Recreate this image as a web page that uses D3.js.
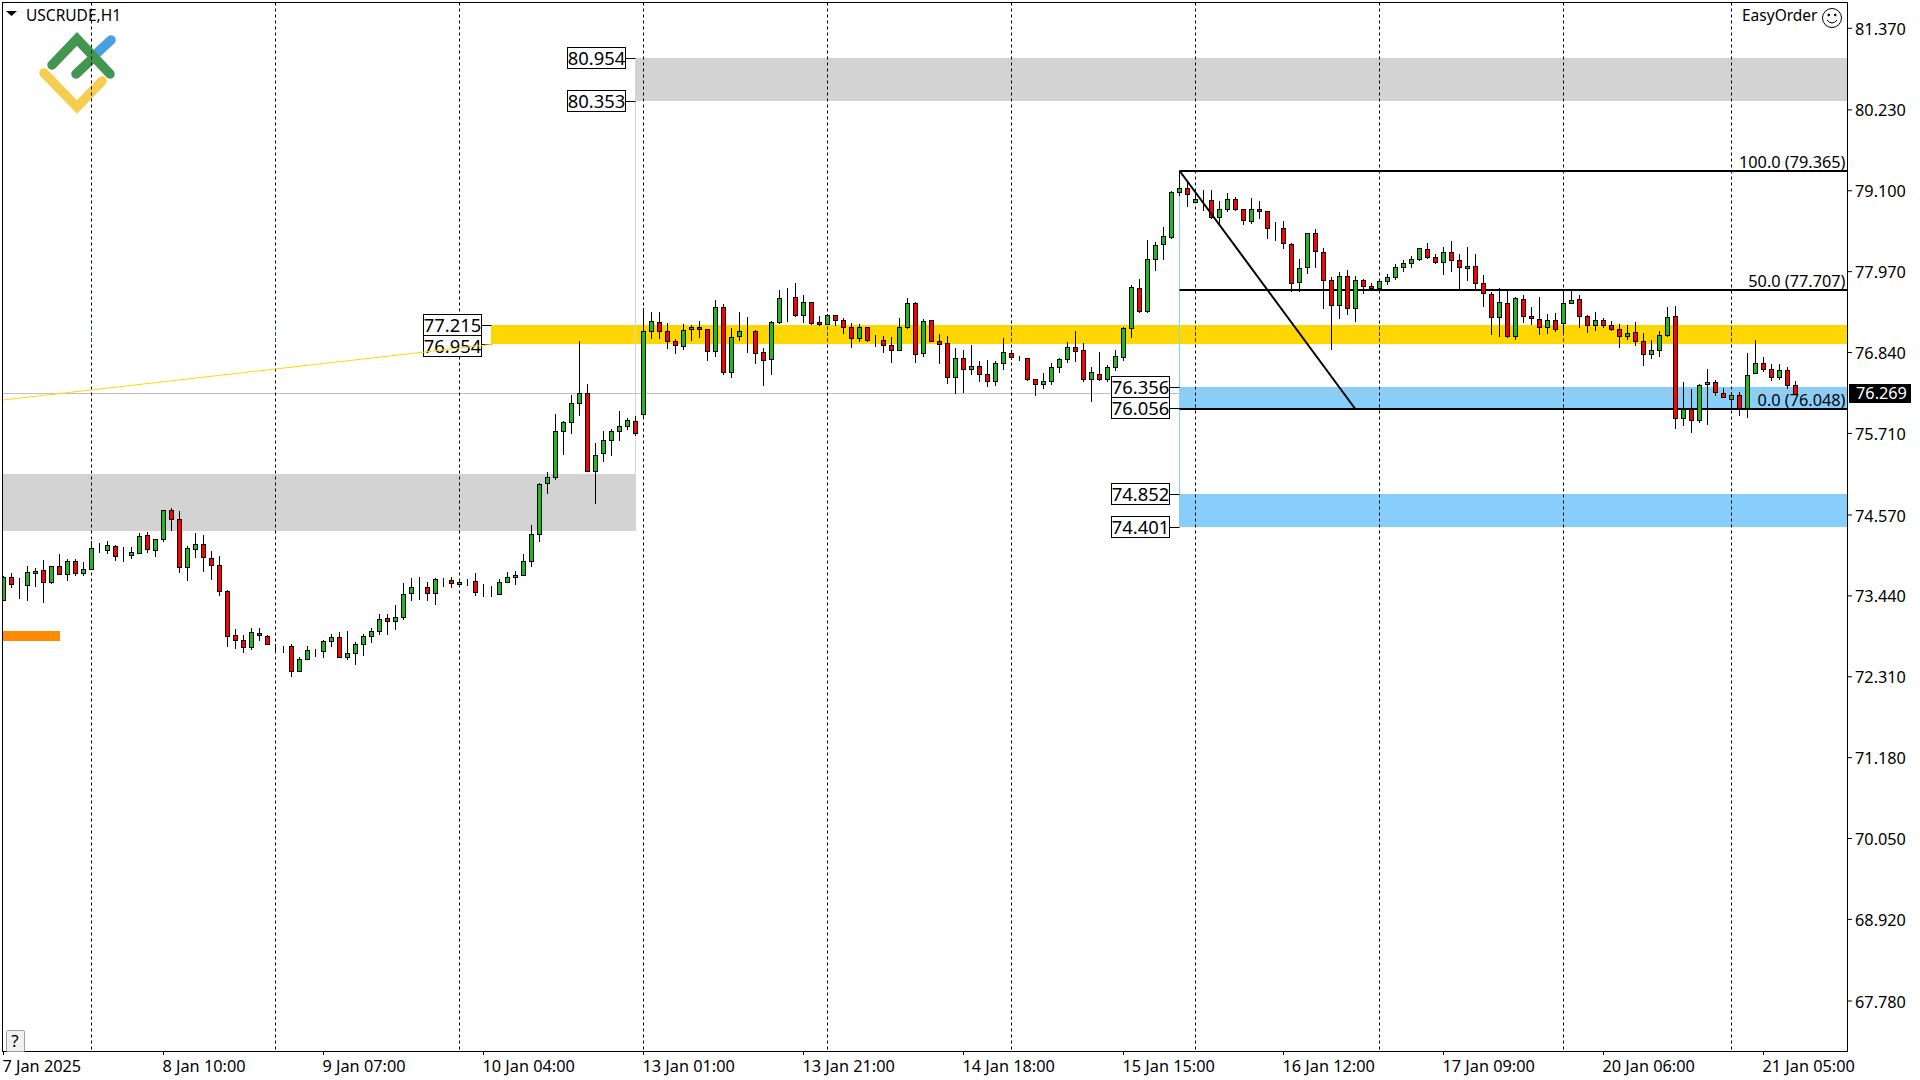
<!DOCTYPE html>
<html>
<head>
<meta charset="utf-8">
<title>USCRUDE,H1</title>
<style>
  html, body { margin: 0; padding: 0; background: #fff; overflow: hidden; }
  svg { display: block; }
  text { font-family: "Noto Sans", sans-serif; fill: #000; }
</style>
</head>
<body>
<div id="chart"></div>
<script src="https://cdn.jsdelivr.net/npm/d3@7"></script>
<script>
// Hourly candles (bar 0 = 7 Jan 2025)
const opens = [
  73.378,73.699,73.606,73.583,73.755,73.797,73.629,73.853,73.736,73.923,
  73.750,73.806,74.100,74.072,74.132,73.993,74.002,74.030,74.286,74.076,
  74.230,74.635,74.509,73.834,74.090,74.160,73.965,73.867,73.504,72.889,
  72.819,72.721,72.917,72.875,72.717,72.730,72.735,72.381,72.549,72.675,
  72.661,72.800,72.860,72.576,72.632,72.758,72.869,72.939,73.126,73.079,
  73.136,73.476,73.560,73.560,73.476,73.667,73.657,73.601,73.643,73.643,
  73.485,73.471,73.457,73.629,73.699,73.727,73.923,74.300,75.012,75.096,
  75.739,75.865,76.130,76.270,75.180,75.432,75.613,75.739,75.809,75.879,
  75.977,77.136,77.262,77.136,76.996,76.927,77.164,77.192,77.164,76.857,
  77.471,76.563,77.066,77.141,77.136,76.843,76.745,77.262,77.606,77.611,
  77.360,77.541,77.262,77.234,77.360,77.290,77.192,77.038,77.192,77.006,
  77.010,76.941,76.871,77.192,77.527,76.829,77.290,76.996,76.968,76.493,
  76.759,76.605,76.647,76.535,76.438,76.689,76.829,76.759,76.759,76.466,
  76.391,76.438,76.633,76.745,76.913,76.871,76.466,76.535,76.466,76.633,
  76.773,77.178,77.737,77.411,78.142,78.352,78.445,79.078,79.134,78.939,
  78.971,78.966,78.729,78.841,78.980,78.841,78.673,78.841,78.813,78.585,
  78.575,78.352,77.821,78.030,78.505,78.240,77.849,77.500,77.905,77.458,
  77.849,77.765,77.737,77.835,77.891,78.030,78.086,78.142,78.282,78.170,
  78.100,78.240,78.128,78.017,78.045,77.807,77.653,77.332,77.527,77.066,
  77.583,77.346,77.304,77.192,77.290,77.248,77.527,77.583,77.346,77.220,
  77.290,77.220,77.164,77.066,77.122,76.996,76.815,76.871,77.080,77.346,
  75.921,76.046,75.893,76.396,76.424,76.270,76.186,76.242,76.060,76.549,
  76.689,76.605,76.493,76.591,76.382
];
const highs = [
  73.713,73.755,73.676,73.857,73.816,73.941,73.853,74.025,73.951,73.951,
  73.913,74.193,74.165,74.193,74.146,74.123,74.123,74.305,74.328,74.230,
  74.635,74.654,74.621,74.132,74.305,74.277,74.067,73.997,73.518,72.977,
  72.880,72.987,72.987,72.889,72.763,72.736,72.763,72.586,72.735,72.693,
  72.819,72.907,72.935,72.949,72.790,72.907,72.991,73.186,73.186,73.299,
  73.620,73.676,73.690,73.629,73.685,73.685,73.699,73.639,73.662,73.755,
  73.606,73.573,73.662,73.769,73.783,74.025,74.426,75.012,75.166,75.977,
  75.879,76.242,76.991,76.400,75.571,75.739,75.767,76.018,75.921,75.949,
  77.462,77.406,77.406,77.248,77.024,77.234,77.211,77.267,77.164,77.569,
  77.513,77.178,77.402,77.336,77.150,76.899,77.276,77.709,77.737,77.807,
  77.639,77.541,77.346,77.374,77.360,77.318,77.248,77.234,77.192,77.080,
  77.066,77.052,77.318,77.588,77.541,77.304,77.290,77.094,77.066,76.899,
  76.875,76.941,76.717,76.731,76.717,77.038,76.875,76.791,76.759,76.466,
  76.549,76.689,76.759,76.982,77.127,76.968,76.633,76.843,76.661,76.871,
  77.192,77.779,77.863,78.412,78.380,78.589,79.092,79.365,79.204,79.064,
  79.106,79.106,78.953,79.064,79.008,78.841,78.994,78.953,78.813,78.659,
  78.673,78.366,78.142,78.505,78.561,78.296,77.891,77.961,77.988,77.905,
  77.863,77.807,77.863,77.933,78.072,78.128,78.184,78.296,78.366,78.212,
  78.310,78.398,78.212,78.310,78.212,77.918,77.681,77.737,77.704,77.611,
  77.639,77.471,77.611,77.374,77.388,77.704,77.704,77.639,77.360,77.402,
  77.318,77.276,77.234,77.220,77.262,77.108,77.010,77.136,77.471,77.490,
  76.424,76.326,76.396,76.596,76.452,76.340,76.284,76.284,76.829,77.010,
  76.773,76.675,76.675,76.633,76.438
];
const lows = [
  73.378,73.555,73.401,73.373,73.578,73.345,73.611,73.736,73.648,73.722,
  73.722,73.806,74.053,74.030,73.941,73.927,73.969,74.030,74.053,73.997,
  74.193,74.360,73.760,73.648,73.983,73.774,73.662,73.452,72.726,72.698,
  72.656,72.684,72.810,72.763,72.651,72.656,72.307,72.381,72.549,72.600,
  72.586,72.739,72.576,72.557,72.488,72.613,72.795,72.907,72.907,72.977,
  73.112,73.373,73.387,73.373,73.317,73.569,73.555,73.583,73.583,73.443,
  73.429,73.429,73.457,73.629,73.606,73.727,73.848,74.198,74.868,75.064,
  75.413,75.706,75.958,75.180,74.728,75.315,75.399,75.609,75.767,75.678,
  75.921,77.043,77.034,76.894,76.824,76.885,77.006,77.057,76.726,76.782,
  76.531,76.489,77.006,76.838,76.684,76.377,76.531,77.239,77.271,77.341,
  77.257,77.229,77.215,77.234,77.215,77.104,76.908,76.992,76.992,76.922,
  76.838,76.698,76.871,77.178,76.698,76.782,76.996,76.684,76.405,76.265,
  76.279,76.531,76.433,76.363,76.386,76.601,76.736,76.722,76.447,76.237,
  76.335,76.391,76.563,76.698,76.708,76.433,76.153,76.447,76.433,76.587,
  76.726,77.048,77.402,77.402,77.993,78.138,78.431,79.032,78.878,78.939,
  78.831,78.715,78.617,78.808,78.827,78.631,78.645,78.706,78.431,78.412,
  78.291,77.690,77.690,77.942,78.026,77.453,76.876,77.313,77.369,77.271,
  77.663,77.723,77.714,77.788,77.863,77.975,78.030,78.128,78.156,78.086,
  77.928,77.970,77.714,77.849,77.737,77.481,77.090,77.062,77.052,77.020,
  77.257,77.225,77.090,77.104,77.136,77.108,77.527,77.192,77.117,77.145,
  77.187,77.150,76.908,77.020,76.936,76.656,76.759,76.782,77.066,75.776,
  75.818,75.720,75.860,75.837,76.242,76.214,76.074,75.958,75.930,76.549,
  76.577,76.452,76.465,76.340,76.256
];
const closes = [
  73.699,73.601,73.606,73.769,73.783,73.629,73.853,73.736,73.923,73.750,
  73.811,74.104,74.100,74.146,73.993,73.993,74.048,74.272,74.090,74.230,
  74.635,74.505,73.834,74.104,74.160,73.974,73.862,73.499,72.875,72.819,
  72.717,72.931,72.884,72.763,72.717,72.730,72.381,72.554,72.679,72.675,
  72.805,72.860,72.576,72.637,72.762,72.874,72.944,73.112,73.079,73.140,
  73.462,73.560,73.560,73.476,73.671,73.667,73.615,73.625,73.643,73.490,
  73.485,73.471,73.629,73.699,73.727,73.923,74.300,74.999,75.096,75.739,
  75.865,76.130,76.270,75.180,75.404,75.613,75.739,75.809,75.893,75.711,
  77.136,77.276,77.131,76.996,76.941,77.150,77.192,77.164,76.857,77.471,
  76.563,77.052,77.136,77.141,76.829,76.731,77.262,77.597,77.606,77.360,
  77.541,77.248,77.234,77.360,77.290,77.192,77.038,77.192,77.010,77.006,
  76.941,76.871,77.192,77.527,76.815,77.276,76.996,76.955,76.493,76.759,
  76.605,76.647,76.535,76.433,76.689,76.843,76.773,76.759,76.461,76.391,
  76.438,76.633,76.745,76.913,76.857,76.466,76.563,76.466,76.633,76.787,
  77.178,77.751,77.411,78.142,78.338,78.464,79.078,79.134,79.050,78.980,
  78.971,78.729,78.841,78.980,78.841,78.687,78.841,78.813,78.575,78.585,
  78.366,77.802,78.016,78.505,78.254,77.849,77.500,77.905,77.458,77.849,
  77.760,77.737,77.835,77.891,78.030,78.086,78.142,78.296,78.170,78.100,
  78.240,78.128,78.030,78.045,77.807,77.667,77.332,77.541,77.062,77.597,
  77.346,77.318,77.192,77.290,77.164,77.527,77.569,77.346,77.220,77.290,
  77.220,77.164,77.066,77.108,76.996,76.815,76.871,77.080,77.332,75.921,
  76.046,75.893,76.382,76.424,76.284,76.214,76.242,76.060,76.521,76.689,
  76.605,76.493,76.591,76.382,76.256
];

const priceTicks = [81.37,80.23,79.10,77.97,76.84,75.71,74.57,73.44,72.31,71.18,70.05,68.92,67.78];
const timeTickBars = [0,20,40,60,80,100,120,140,160,180,200,220];
const timeTickLabels = ["7 Jan 2025","8 Jan 10:00","9 Jan 07:00","10 Jan 04:00","13 Jan 01:00","13 Jan 21:00",
  "14 Jan 18:00","15 Jan 15:00","16 Jan 12:00","17 Jan 09:00","20 Jan 06:00","21 Jan 05:00"];
const gridBars = [11,34,57,80,103,126,149,172,195,216];

// Zones: grey top, grey low, yellow, blue near, blue low
const zoneFromBar = [79,0,61,147,147];
const zoneToBar = [null,79,null,null,null];
const zoneHigh = [80.954,75.129,77.215,76.356,74.852];
const zoneLow = [80.353,74.346,76.954,76.056,74.401];
const zoneColors = ["#d3d3d3","#d3d3d3","#ffd700","#87cefa","#87cefa"];

// Fibonacci lines
const fibStartBar = 147;
const fibEndBar = 169;
const fibLevels = [79.38,77.707,76.048];
const fibLabels = ["100.0 (79.365)","50.0 (77.707)","0.0 (76.048)"];

const trendBars = [0,61];
const trendPrices = [76.177,76.954];
const lastPrice = 76.269;
const orangeBars = [0,7];
const orangePrices = [72.949,72.813];

const width = 1920, height = 1080;
const plot = { left: 2.5, top: 2.5, right: 1847.5, bottom: 1051.5 };
const upColor = "#22b822", downColor = "#ff0000";
const textSize = "15.5px";
const axisTextSize = "16.3px";

const x = d3.scaleLinear().domain([0, 224]).range([3.5, 1795.5]);
const y = d3.scaleLinear().domain([81.37, 67.78]).range([28.3, 1001]);
const crisp = v => Math.floor(v) + 0.5;

const svg = d3.select("#chart").append("svg")
  .attr("width", width)
  .attr("height", height);

svg.append("clipPath").attr("id", "plot-clip").append("rect")
  .attr("x", 3).attr("y", 3)
  .attr("width", plot.right - 3).attr("height", plot.bottom - 3);

const yellowIdx = 2;
svg.append("clipPath").attr("id", "yellow-clip").append("rect")
  .attr("x", 0).attr("width", width)
  .attr("y", y(zoneHigh[yellowIdx]))
  .attr("height", y(zoneLow[yellowIdx]) - y(zoneHigh[yellowIdx]));

const g = svg.append("g").attr("clip-path", "url(#plot-clip)");

// Zones
const zoneIdx = d3.range(zoneHigh.length);
g.selectAll(".zone")
  .data(zoneIdx)
  .join("rect")
  .attr("class", "zone")
  .attr("x", i => zoneFromBar[i] === 0 ? plot.left : x(zoneFromBar[i]) - 0.5)
  .attr("y", i => Math.floor(y(zoneHigh[i])))
  .attr("width", i => (zoneToBar[i] === null ? plot.right : x(zoneToBar[i])) - (zoneFromBar[i] === 0 ? plot.left : x(zoneFromBar[i]) - 0.5))
  .attr("height", i => Math.round(y(zoneLow[i])) - Math.floor(y(zoneHigh[i])))
  .attr("fill", i => zoneColors[i]);

// Connector lines at the left side of the zones
g.append("line")
  .attr("x1", x(79)).attr("x2", x(79))
  .attr("y1", y(80.954)).attr("y2", y(74.346))
  .attr("stroke", "#d3d3d3");
g.append("line")
  .attr("x1", x(fibStartBar)).attr("x2", x(fibStartBar))
  .attr("y1", y(fibLevels[0])).attr("y2", y(74.401))
  .attr("stroke", "#87cefa");

g.append("rect")
  .attr("x", plot.left)
  .attr("y", Math.round(y(orangePrices[0])))
  .attr("width", x(orangeBars[1]) + 0.5 - plot.left)
  .attr("height", Math.round(y(orangePrices[1])) - Math.round(y(orangePrices[0])))
  .attr("fill", "#ff8c00");

// Last price line
g.append("line")
  .attr("x1", plot.left).attr("x2", plot.right)
  .attr("y1", crisp(y(lastPrice))).attr("y2", crisp(y(lastPrice)))
  .attr("stroke", "#c0c0c0");

// Logo
const logo = svg.append("g")
  .attr("fill", "none")
  .attr("stroke-width", 9.5)
  .attr("stroke-linecap", "round")
  .attr("stroke-linejoin", "miter");
logo.append("path").attr("d", "M97 53L111 40").attr("stroke", "#4a9fe0");
logo.append("path").attr("d", "M44 73L77 107L102 81").attr("stroke", "#f5cd50");
logo.append("path").attr("d", "M52 65L77 39L110 74M76 74L91 60").attr("stroke", "#43964f");

// Vertical dashed grid
const grid = (cls, color) => svg.append("g")
  .attr("class", cls)
  .attr("stroke", color)
  .attr("stroke-dasharray", "3,3")
  .selectAll("line")
  .data(gridBars)
  .join("line")
  .attr("x1", d => x(d)).attr("x2", d => x(d))
  .attr("y1", plot.top).attr("y2", plot.bottom);
grid("grid", "#000");
grid("grid-yellow", "#1a2fb0");
svg.select(".grid-yellow").attr("clip-path", "url(#yellow-clip)");

// Candles
const bars = d3.range(opens.length);
const candles = svg.append("g").attr("clip-path", "url(#plot-clip)");

candles.selectAll(".wick")
  .data(bars)
  .join("line")
  .attr("class", "wick")
  .attr("x1", i => x(i)).attr("x2", i => x(i))
  .attr("y1", i => Math.floor(y(highs[i])))
  .attr("y2", i => Math.ceil(y(lows[i])))
  .attr("stroke", "#000");

candles.selectAll(".body")
  .data(bars)
  .join("rect")
  .attr("class", "body")
  .attr("x", i => x(i) - 2)
  .attr("width", 4)
  .attr("y", i => crisp(y(Math.max(opens[i], closes[i]))))
  .attr("height", i => crisp(y(Math.min(opens[i], closes[i]))) - crisp(y(Math.max(opens[i], closes[i]))))
  .attr("fill", i => closes[i] >= opens[i] ? upColor : downColor)
  .attr("stroke", "#000");

// Fibonacci retracement
g.selectAll(".fib")
  .data(fibLevels)
  .join("line")
  .attr("class", "fib")
  .attr("x1", x(fibStartBar)).attr("x2", plot.right)
  .attr("y1", d => Math.round(y(d))).attr("y2", d => Math.round(y(d)))
  .attr("stroke", "#000")
  .attr("stroke-width", 2);
svg.append("line")
  .attr("x1", x(fibStartBar)).attr("y1", y(fibLevels[0]))
  .attr("x2", x(fibEndBar)).attr("y2", y(fibLevels[2]))
  .attr("stroke", "#000")
  .attr("stroke-width", 2);
svg.selectAll(".fib-label")
  .data(fibLabels)
  .join("text")
  .attr("class", "fib-label")
  .attr("x", 1845.5)
  .attr("y", (d, i) => Math.round(y(fibLevels[i])) - 3)
  .attr("text-anchor", "end")
  .attr("font-size", axisTextSize)
  .text(d => d);

// Frame
svg.append("rect")
  .attr("x", plot.left).attr("y", plot.top)
  .attr("width", plot.right - plot.left).attr("height", plot.bottom - plot.top)
  .attr("fill", "none")
  .attr("stroke", "#000");

// Axes
const yAxis = svg.append("g")
  .attr("transform", `translate(${plot.right - 0.5},-0.5)`)
  .call(d3.axisRight(y).tickValues(priceTicks).tickFormat(d3.format(".3f")).tickSize(5).tickPadding(3));
yAxis.select(".domain").remove();
yAxis.selectAll("text").attr("font-size", axisTextSize).attr("font-family", null).attr("dy", "0.4em");

const xAxis = svg.append("g")
  .attr("transform", `translate(-0.5,${plot.bottom - 0.5})`)
  .call(d3.axisBottom(x).tickValues(timeTickBars).tickFormat((d, i) => timeTickLabels[i]).tickSize(4).tickPadding(5));
xAxis.select(".domain").remove();
xAxis.selectAll("text")
  .attr("text-anchor", "start")
  .attr("x", -1)
  .attr("font-size", axisTextSize)
  .attr("font-family", null);

// Price label boxes on the zones
const boxPrices = [80.954,80.353,77.215,76.954,76.356,76.056,74.852,74.401];
const boxBars = [79,79,61,61,147,147,147,147];
const boxW = 58, boxH = 21;
let prevBottom = -100;
boxPrices.forEach((p, i) => {
  const zx = x(boxBars[i]);
  const level = Math.floor(y(p));
  const right = zx - 10;
  const top = Math.max(level - 10.5, prevBottom);
  prevBottom = top + boxH;
  svg.append("line")
    .attr("x1", right).attr("x2", zx)
    .attr("y1", level + 0.5).attr("y2", level + 0.5)
    .attr("stroke", "#000");
  svg.append("rect")
    .attr("x", right - boxW).attr("y", top)
    .attr("width", boxW).attr("height", boxH)
    .attr("fill", "#fff")
    .attr("stroke", "#000");
  svg.append("text")
    .attr("x", right - boxW / 2).attr("y", top + boxH / 2 + 6.5)
    .attr("text-anchor", "middle")
    .attr("font-size", "18.4px")
    .text(d3.format(".3f")(p));
});

// Thin yellow trend line, drawn over the label
svg.append("line")
  .attr("x1", plot.left + 0.5).attr("y1", y(trendPrices[0]))
  .attr("x2", x(trendBars[1])).attr("y2", y(trendPrices[1]))
  .attr("stroke", "#ffd700");

// Current price tag
svg.append("rect")
  .attr("x", 1849).attr("y", 384)
  .attr("width", 62).attr("height", 19)
  .attr("fill", "#000");
svg.append("text")
  .attr("x", 1856).attr("y", 399)
  .attr("font-size", axisTextSize)
  .style("fill", "#fff")
  .text(d3.format(".3f")(lastPrice));

// Header
svg.append("path").attr("d", "M6 11L17 11L11.5 16Z").attr("fill", "#000");
svg.append("text").attr("x", 26).attr("y", 20.5).attr("font-size", textSize).text("USCRUDE,H1");
svg.append("text").attr("x", 1742).attr("y", 21).attr("font-size", textSize).text("EasyOrder");

const smile = svg.append("g").attr("transform", "translate(1832,18)").attr("fill", "none").attr("stroke", "#000");
smile.append("circle").attr("r", 9.5);
smile.append("path").attr("d", "M-5 2Q0 8 5 2");
smile.append("circle").attr("cx", -3.2).attr("cy", -3).attr("r", 0.9).attr("fill", "#000");
smile.append("circle").attr("cx", 3.2).attr("cy", -3).attr("r", 0.9).attr("fill", "#000");

// Help button
svg.append("rect")
  .attr("x", 6.5).attr("y", 1030.5)
  .attr("width", 18).attr("height", 21)
  .attr("rx", 1)
  .attr("fill", "#f0f0f0")
  .attr("stroke", "#a0a0a0");
svg.append("text")
  .attr("x", 15).attr("y", 1047)
  .attr("text-anchor", "middle")
  .attr("font-size", "17px")
  .text("?");
</script>
</body>
</html>
